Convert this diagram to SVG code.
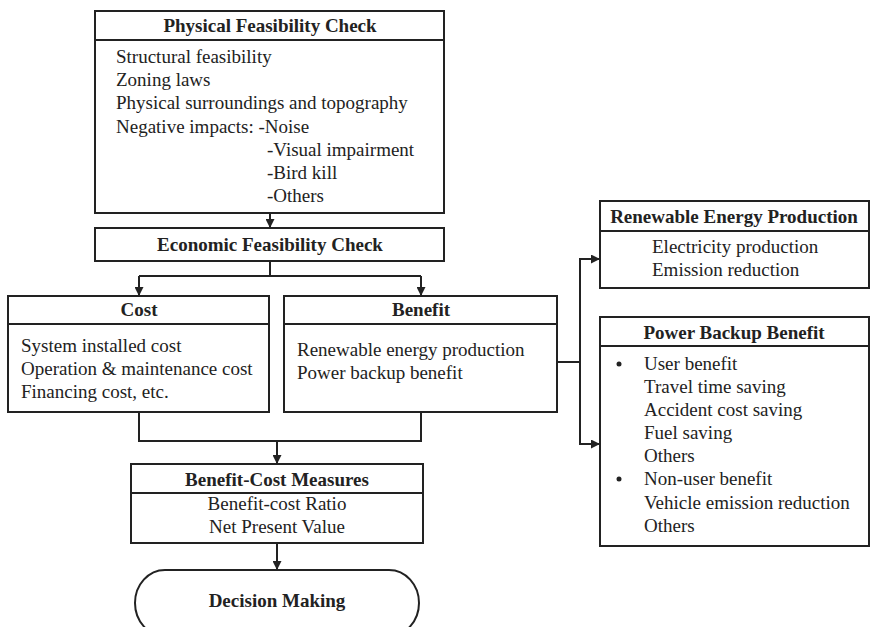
<svg xmlns="http://www.w3.org/2000/svg" width="871" height="627" viewBox="0 0 871 627">
<defs>
<marker id="arr" viewBox="0 0 10 10" refX="10" refY="5" markerWidth="9" markerHeight="9" markerUnits="userSpaceOnUse" orient="auto">
<path d="M0,0 L10,5 L0,10 z" fill="#222"/>
</marker>
<style>
.box{fill:#fff;stroke:#222;stroke-width:2}
.ln{fill:none;stroke:#222;stroke-width:2}
.t{font-family:"Liberation Serif","Times New Roman",serif;font-size:19px;fill:#222}
.b{font-family:"Liberation Serif","Times New Roman",serif;font-size:19px;font-weight:bold;fill:#222;text-anchor:middle}
.c{text-anchor:middle}
</style>
</defs>
<rect width="871" height="627" fill="#fff"/>

<g id="connectors">
<line class="ln" x1="270" y1="213" x2="270" y2="228" marker-end="url(#arr)"/>
<line class="ln" x1="270" y1="261" x2="270" y2="276"/>
<line class="ln" x1="139" y1="276" x2="421" y2="276"/>
<line class="ln" x1="139" y1="276" x2="139" y2="296" marker-end="url(#arr)"/>
<line class="ln" x1="421" y1="276" x2="421" y2="296" marker-end="url(#arr)"/>
<polyline class="ln" points="139,412 139,441 421,441 421,412"/>
<line class="ln" x1="277" y1="441" x2="277" y2="464" marker-end="url(#arr)"/>
<line class="ln" x1="277" y1="543" x2="277" y2="570" marker-end="url(#arr)"/>
<line class="ln" x1="557" y1="362" x2="580" y2="362"/>
<line class="ln" x1="580" y1="259" x2="580" y2="444"/>
<line class="ln" x1="579" y1="259" x2="600" y2="259" marker-end="url(#arr)"/>
<line class="ln" x1="579" y1="444" x2="600" y2="444" marker-end="url(#arr)"/>
</g>

<g id="physical">
<rect class="box" x="95" y="11" width="349" height="202"/>
<line class="ln" x1="95" y1="40" x2="444" y2="40"/>
<text class="b" x="270" y="32">Physical Feasibility Check</text>
<text class="t" x="116" y="63">Structural feasibility</text>
<text class="t" x="116" y="86">Zoning laws</text>
<text class="t" x="116" y="109">Physical surroundings and topography</text>
<text class="t" x="116" y="133">Negative impacts: -Noise</text>
<text class="t" x="267" y="156">-Visual impairment</text>
<text class="t" x="267" y="179">-Bird kill</text>
<text class="t" x="267" y="202">-Others</text>
</g>

<g id="economic">
<rect class="box" x="95" y="228" width="349" height="33"/>
<text class="b" x="270" y="251">Economic Feasibility Check</text>
</g>

<g id="cost">
<rect class="box" x="8" y="296" width="261" height="116"/>
<line class="ln" x1="8" y1="324" x2="269" y2="324"/>
<text class="b" x="139" y="316">Cost</text>
<text class="t" x="21" y="352">System installed cost</text>
<text class="t" x="21" y="375">Operation &amp; maintenance cost</text>
<text class="t" x="21" y="398">Financing cost, etc.</text>
</g>

<g id="benefit">
<rect class="box" x="284" y="296" width="273" height="116"/>
<line class="ln" x1="284" y1="324" x2="557" y2="324"/>
<text class="b" x="421" y="316">Benefit</text>
<text class="t" x="297" y="356">Renewable energy production</text>
<text class="t" x="297" y="379">Power backup benefit</text>
</g>

<g id="bcm">
<rect class="box" x="131" y="464" width="292" height="79"/>
<line class="ln" x1="131" y1="493" x2="423" y2="493"/>
<text class="b" x="277" y="486">Benefit-Cost Measures</text>
<text class="t c" x="277" y="510">Benefit-cost Ratio</text>
<text class="t c" x="277" y="533">Net Present Value</text>
</g>

<g id="decision">
<rect class="box" x="135" y="570" width="284" height="66" rx="30" ry="33"/>
<text class="b" x="277" y="607">Decision Making</text>
</g>

<g id="renewable">
<rect class="box" x="600" y="201" width="269" height="87"/>
<line class="ln" x1="600" y1="231" x2="869" y2="231"/>
<text class="b" x="734" y="223">Renewable Energy Production</text>
<text class="t" x="652" y="253">Electricity production</text>
<text class="t" x="652" y="276">Emission reduction</text>
</g>

<g id="powerbackup">
<rect class="box" x="600" y="317" width="269" height="229"/>
<line class="ln" x1="600" y1="346" x2="869" y2="346"/>
<text class="b" x="734" y="339">Power Backup Benefit</text>
<circle cx="619" cy="364" r="2.5" fill="#222"/>
<text class="t" x="644" y="370">User benefit</text>
<text class="t" x="644" y="393">Travel time saving</text>
<text class="t" x="644" y="416">Accident cost saving</text>
<text class="t" x="644" y="439">Fuel saving</text>
<text class="t" x="644" y="462">Others</text>
<circle cx="619" cy="479" r="2.5" fill="#222"/>
<text class="t" x="644" y="485">Non-user benefit</text>
<text class="t" x="644" y="509">Vehicle emission reduction</text>
<text class="t" x="644" y="532">Others</text>
</g>
</svg>
